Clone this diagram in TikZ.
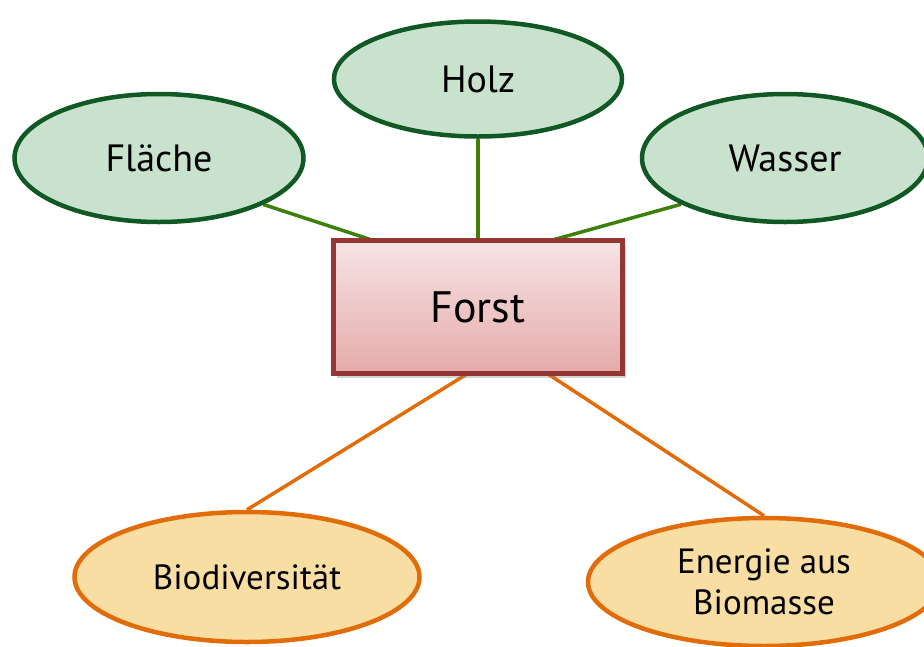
\documentclass[tikz,border=0pt]{standalone}
\usepackage{fontspec}
\setmainfont{PT Sans}
\usetikzlibrary{shapes.geometric,shadows}
\pgfdeclarelayer{background}
\pgfsetlayers{background,main}
\definecolor{gfill}{RGB}{200,226,205}
\definecolor{gdraw}{RGB}{16,88,36}
\definecolor{gline}{RGB}{60,128,10}
\definecolor{ofill}{RGB}{249,222,164}
\definecolor{odraw}{RGB}{227,108,10}
\definecolor{rdraw}{RGB}{148,54,52}
\definecolor{rtop}{RGB}{247,228,229}
\definecolor{rbot}{RGB}{229,170,170}
\begin{document}
\begin{tikzpicture}[x=1pt,y=-1pt,
  topic/.style={ellipse,draw=gdraw,fill=gfill,line width=4.5pt,inner sep=0pt,
     font=\fontsize{38}{44}\selectfont},
  leaf/.style={ellipse,draw=odraw,fill=ofill,line width=4.5pt,inner sep=0pt,
     align=center,font=\fontsize{35}{41}\selectfont},
  gcon/.style={gline,line width=3.5pt},
  ocon/.style={odraw,line width=3.5pt}]
\useasboundingbox (0,0) rectangle (924,646);
\begin{scope}
\clip (0,0) rectangle (924,646);
\node[topic,minimum width=288pt,minimum height=115pt] (holz) at (478,79) {Holz};
\node[topic,minimum width=289pt,minimum height=128pt] (flaeche) at (159,158) {Fläche};
\node[topic,minimum width=286pt,minimum height=128pt] (wasser) at (785,158) {Wasser};
\node[leaf,minimum width=345pt,minimum height=130pt] (bio) at (247,577) {Biodiversität};
\node[leaf,minimum width=352pt,minimum height=128pt] (energie) at (764,582) {Energie aus\\Biomasse};
\node[draw=rdraw,line width=4.5pt,top color=rtop,bottom color=rbot,
  minimum width=289pt,minimum height=133pt,inner sep=0pt,
  drop shadow={shadow xshift=3pt,shadow yshift=-4pt,opacity=0.35},
  font=\fontsize{44}{50}\selectfont] (forst) at (478,307) {Forst};
\coordinate (t1) at (375,241);
\coordinate (t3) at (549,241);
\coordinate (b1) at (467,374);
\coordinate (b2) at (548,374);
\begin{pgfonlayer}{background}
\draw[gcon] (flaeche.-24) -- (t1);
\draw[gcon] (holz.south) -- (forst.north);
\draw[gcon] (wasser.204) -- (t3);
\draw[ocon] (b1) -- (bio.north);
\draw[ocon] (b2) -- (energie.north);
\end{pgfonlayer}
\end{scope}
\end{tikzpicture}
\end{document}
